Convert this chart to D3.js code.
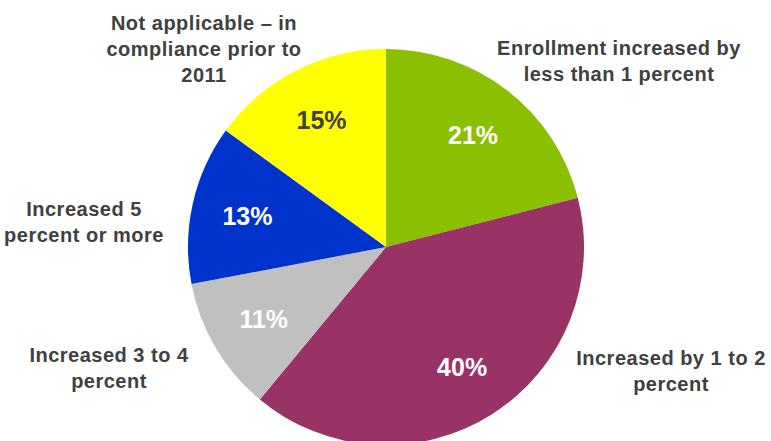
<!DOCTYPE html>
<html>
<head>
<meta charset="utf-8">
<script src="https://cdn.jsdelivr.net/npm/d3@7"></script>
<style>
  html, body { margin: 0; padding: 0; background: #fff; }
  svg { display: block; }
  text { font-family: "Liberation Sans", Arial, sans-serif; font-weight: bold; }
</style>
</head>
<body>
<svg id="chart" width="771" height="441"></svg>
<script>
// Enrollment change categories, clockwise from 12 o'clock
const categories = [
  "Enrollment increased by less than 1 percent",
  "Increased by 1 to 2 percent",
  "Increased 3 to 4 percent",
  "Increased 5 percent or more",
  "Not applicable – in compliance prior to 2011"
];
const shares = [21, 40, 11, 13, 15];
const labelLines = [
  ["Enrollment increased by", "less than 1 percent"],
  ["Increased by 1 to 2", "percent"],
  ["Increased 3 to 4", "percent"],
  ["Increased 5", "percent or more"],
  ["Not applicable – in", "compliance prior to", "2011"]
];

// Styling and layout
const colors = ["#8BC000", "#993366", "#C0C0C0", "#0033CC", "#FFFF00"];
const pctColors = ["#ffffff", "#ffffff", "#ffffff", "#ffffff", "#404040"];
const cx = 386, cy = 247, radius = 198;
const labelAnchors = [
  [619, 55], [671, 365], [109, 362], [84, 216], [204, 30]
];
const lineHeight = 26;

const svg = d3.select("#chart");
const g = svg.append("g").attr("transform", `translate(${cx},${cy})`);

const pie = d3.pie().sort(null).value(d => d);
const arcs = pie(shares);
const arc = d3.arc().innerRadius(0).outerRadius(radius);
const labelArc = d3.arc().innerRadius(142).outerRadius(142);

g.selectAll("path.slice")
  .data(arcs)
  .join("path")
  .attr("class", "slice")
  .attr("d", arc)
  .attr("fill", (d, i) => colors[i]);

g.selectAll("text.pct")
  .data(arcs)
  .join("text")
  .attr("class", "pct")
  .attr("transform", d => `translate(${labelArc.centroid(d)})`)
  .attr("text-anchor", "middle")
  .attr("dy", "0.36em")
  .attr("font-size", 25)
  .attr("fill", (d, i) => pctColors[i])
  .text(d => `${d.data}%`);

const cat = svg.selectAll("text.cat")
  .data(categories)
  .join("text")
  .attr("class", "cat")
  .attr("text-anchor", "middle")
  .attr("font-size", 20)
  .attr("letter-spacing", 0.5)
  .attr("fill", "#404040");

cat.each(function(d, i) {
  const [x, y] = labelAnchors[i];
  d3.select(this).selectAll("tspan")
    .data(labelLines[i])
    .join("tspan")
    .attr("x", x)
    .attr("y", (t, j) => y + j * lineHeight)
    .text(t => t);
});
</script>
</body>
</html>
